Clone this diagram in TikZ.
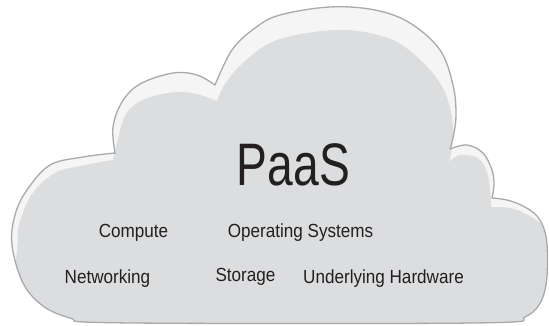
\documentclass[tikz,border=0pt]{standalone}
\usepackage{fontspec}
\newfontfamily\labfont[FakeStretch=0.9]{Liberation Sans}
\newfontfamily\titlefont[FakeStretch=0.77]{Liberation Sans}
\definecolor{cloudfill}{HTML}{DCDDDF}
\definecolor{cloudhi}{HTML}{F5F5F6}
\definecolor{cloudline}{HTML}{A7A9AC}
\definecolor{txt}{HTML}{231F20}
\tikzset{
  lab/.style={font=\labfont\fontsize{19}{22}\selectfont, text=txt, inner sep=0pt, anchor=base},
  ttl/.style={font=\titlefont\fontsize{60}{66}\selectfont, text=txt, inner sep=0pt, anchor=base},
  rim/.style={draw=cloudline, line width=1.3pt, line join=round}
}
\def\cloudoutline{%
  plot[smooth,tension=0.6] coordinates {(115,153) (113,127) (122,102) (140,84) (173,73) (197,75) (215,85)}
  -- plot[smooth,tension=0.6] coordinates {(215,85) (232,50) (255,28) (280,15) (330,7) (375,10) (410,23) (440,50) (453,85) (456,115) (453,138) (450,149)}
  -- plot[smooth,tension=0.6] coordinates {(450,149) (467,145) (483,153) (492,170) (494,185) (492,198)}
  -- plot[smooth,tension=0.6] coordinates {(492,198) (507,200) (523,206) (537,216) (545,232) (547.5,255) (546,285) (539,305) (525,317) (500,322.5) (300,323.5) (100,322.5) (70,318) (43,306) (23,283) (12,245) (15,215) (27,190) (50,165) (83,157) (115,153)}
  -- cycle}
\def\cloudinner{%
  plot[smooth,tension=0.6] coordinates {(-10,345) (10,300) (17,250) (19,225) (32,194) (55,173) (85,165) (113,160)}
  -- plot[smooth,tension=0.6] coordinates {(113,160) (117,143) (126,114) (145,99) (177,92) (200,95) (217,101)}
  -- plot[smooth,tension=0.6] coordinates {(217,101) (225,84) (243,63) (277,40) (337,30) (385,37) (415,55) (440,83) (451,112) (453,140) (449,162)}
  -- plot[smooth,tension=0.6] coordinates {(449,162) (460,155) (478,158) (487,172) (490,190) (491,207)}
  -- plot[smooth,tension=0.6] coordinates {(491,207) (510,208) (524,213) (540,223) (556,240) (565,300) (565,345)}
  -- cycle}
\begin{document}
\begin{tikzpicture}[x=1pt,y=-1pt]
\useasboundingbox (0,0) rectangle (549,325);
\fill[cloudhi] \cloudoutline;
\begin{scope}
  \clip \cloudoutline;
  \fill[cloudfill] \cloudinner;
\end{scope}
\path[rim] \cloudoutline;
\node[ttl] (paas) at (293.5,185) {PaaS};
\node[lab] (compute) at (133.5,237) {Compute};
\node[lab] (os) at (300.5,237) {Operating Systems};
\node[lab] (net) at (107.5,283) {Networking};
\node[lab] (sto) at (245.5,281) {Storage};
\node[lab] (hw) at (383.5,283) {Underlying Hardware};
\end{tikzpicture}
\end{document}
